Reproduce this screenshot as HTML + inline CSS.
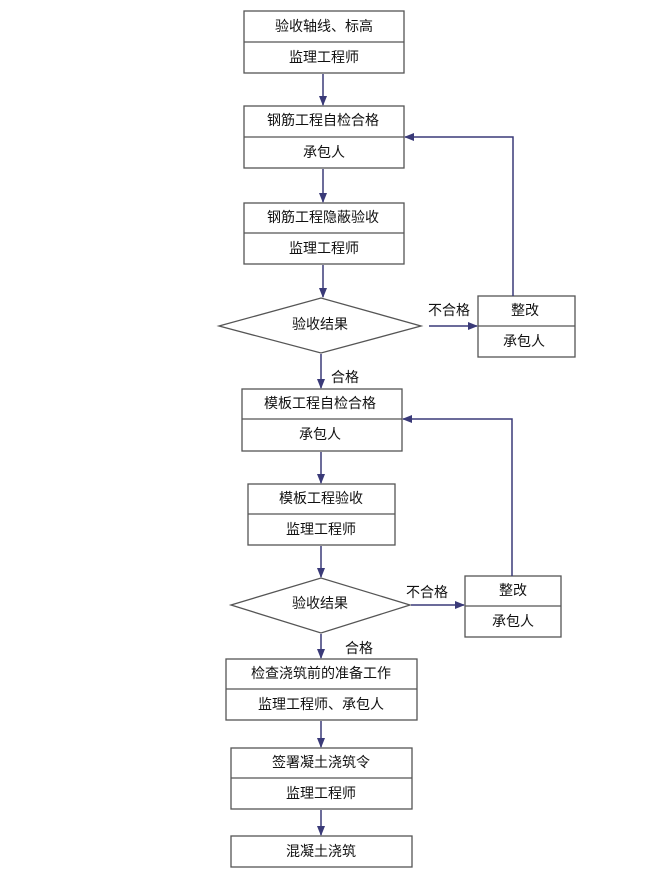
<!DOCTYPE html>
<html><head><meta charset="utf-8"><style>
html,body{margin:0;padding:0;background:#fff;}
svg{display:block;}
text{font-family:"Liberation Sans","Noto Sans CJK SC",sans-serif;font-size:14px;fill:#111;text-anchor:middle;dominant-baseline:central;}
</style></head><body>
<svg width="669" height="877" viewBox="0 0 669 877" xmlns="http://www.w3.org/2000/svg">
<defs>
<marker id="a" markerWidth="10" markerHeight="8" refX="9" refY="4" orient="auto" markerUnits="userSpaceOnUse">
<path d="M0,0 L10,4 L0,8 z" fill="#3a3a78"/></marker>
</defs>
<g fill="none" stroke="#555" stroke-width="1.3">
<rect x="244" y="11" width="160" height="62"/><line x1="244" y1="42" x2="404" y2="42"/>
<rect x="244" y="106" width="160" height="62"/><line x1="244" y1="137" x2="404" y2="137"/>
<rect x="244" y="203" width="160" height="61"/><line x1="244" y1="233" x2="404" y2="233"/>
<polygon points="219,326 321,298 421,326 321,353"/>
<rect x="478" y="296" width="97" height="61"/><line x1="478" y1="326" x2="575" y2="326"/>
<rect x="242" y="389" width="160" height="62"/><line x1="242" y1="419" x2="402" y2="419"/>
<rect x="248" y="484" width="147" height="61"/><line x1="248" y1="514" x2="395" y2="514"/>
<polygon points="231,605 321,578 410,605 321,633"/>
<rect x="465" y="576" width="96" height="61"/><line x1="465" y1="606" x2="561" y2="606"/>
<rect x="226" y="659" width="191" height="61"/><line x1="226" y1="689" x2="417" y2="689"/>
<rect x="231" y="748" width="181" height="61"/><line x1="231" y1="778" x2="412" y2="778"/>
<rect x="231" y="836" width="181" height="31"/>
</g>
<g fill="none" stroke="#3a3a78" stroke-width="1.5">
<line x1="323" y1="74" x2="323" y2="105" marker-end="url(#a)"/>
<line x1="323" y1="169" x2="323" y2="202" marker-end="url(#a)"/>
<line x1="323" y1="265" x2="323" y2="297" marker-end="url(#a)"/>
<line x1="429" y1="326" x2="477" y2="326" marker-end="url(#a)"/>
<polyline points="513,296 513,137 405,137" marker-end="url(#a)"/>
<line x1="321" y1="354" x2="321" y2="388" marker-end="url(#a)"/>
<line x1="321" y1="452" x2="321" y2="483" marker-end="url(#a)"/>
<line x1="321" y1="546" x2="321" y2="577" marker-end="url(#a)"/>
<line x1="411" y1="605" x2="464" y2="605" marker-end="url(#a)"/>
<polyline points="512,576 512,419 403,419" marker-end="url(#a)"/>
<line x1="321" y1="634" x2="321" y2="658" marker-end="url(#a)"/>
<line x1="321" y1="721" x2="321" y2="747" marker-end="url(#a)"/>
<line x1="321" y1="810" x2="321" y2="835" marker-end="url(#a)"/>
</g>
<text x="324" y="26">验收轴线、标高</text>
<text x="324" y="57">监理工程师</text>
<text x="323" y="120">钢筋工程自检合格</text>
<text x="324" y="152">承包人</text>
<text x="323" y="217">钢筋工程隐蔽验收</text>
<text x="324" y="248">监理工程师</text>
<text x="320" y="324">验收结果</text>
<text x="449" y="310">不合格</text>
<text x="525" y="310">整改</text>
<text x="524" y="341">承包人</text>
<text x="345" y="377">合格</text>
<text x="320" y="403">模板工程自检合格</text>
<text x="320" y="434">承包人</text>
<text x="321" y="498">模板工程验收</text>
<text x="321" y="529">监理工程师</text>
<text x="320" y="603">验收结果</text>
<text x="427" y="592">不合格</text>
<text x="513" y="590">整改</text>
<text x="513" y="621">承包人</text>
<text x="359" y="648">合格</text>
<text x="321" y="673">检查浇筑前的准备工作</text>
<text x="321" y="704">监理工程师、承包人</text>
<text x="321" y="762">签署凝土浇筑令</text>
<text x="321" y="793">监理工程师</text>
<text x="321" y="851">混凝土浇筑</text>
</svg>
</body></html>
